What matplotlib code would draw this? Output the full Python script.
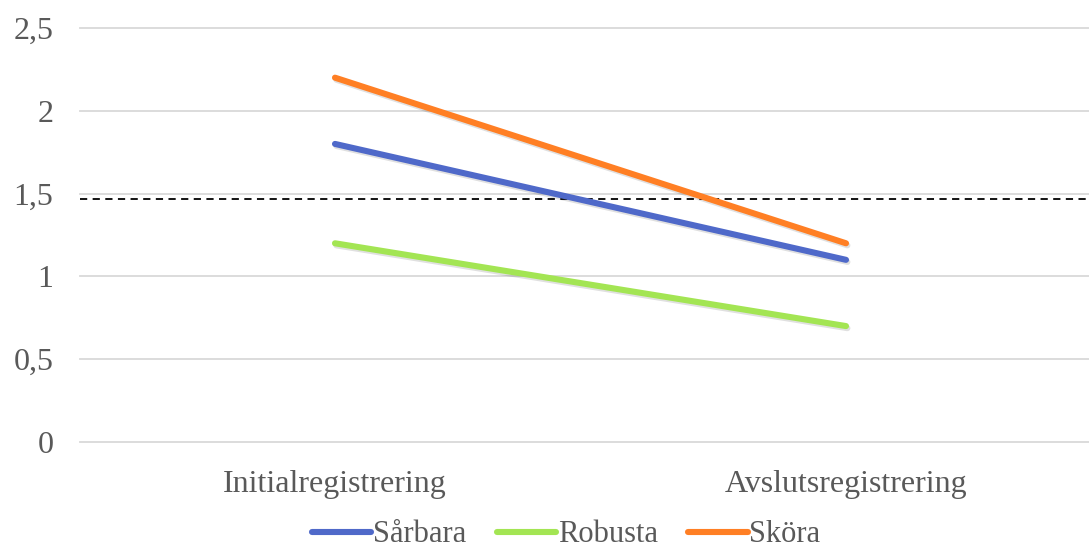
import matplotlib.pyplot as plt
import matplotlib.patheffects as pe

plt.rcParams['font.family'] = ['Liberation Serif', 'DejaVu Serif']

categories = ['Initialregistrering', 'Avslutsregistrering']
sarbara = [1.8, 1.1]
robusta = [1.2, 0.7]
skora = [2.2, 1.2]
reference_level = 1.47
yticks = [0, 0.5, 1, 1.5, 2, 2.5]
ytick_labels = ['0', '0,5', '1', '1,5', '2', '2,5']

fig = plt.figure(figsize=(10.89, 5.52), dpi=100)
ax = fig.add_axes([80 / 1089, 1 - 442 / 552, 1 - 80 / 1089, 414 / 552])

x = [0, 1]
shadow = [pe.SimpleLineShadow(offset=(1, -1.5), alpha=0.12, shadow_color='black'), pe.Normal()]
series = [('Sårbara', sarbara, '#4F69C9'),
          ('Robusta', robusta, '#A3E553'),
          ('Sköra', skora, '#FF7F24')]
for name, vals, col in series:
    ax.plot(x, vals, color=col, lw=4.4, solid_capstyle='round', label=name,
            path_effects=shadow, zorder=3)

ax.axhline(reference_level, color='black', lw=1.3, ls=(0, (4, 3)), zorder=2)

ax.set_xlim(-0.499, 1.4755)
ax.set_ylim(0, 2.5)
ax.set_yticks(yticks)
ax.set_yticklabels(ytick_labels)
ax.set_xticks(x)
ax.set_xticklabels(categories)
ax.grid(axis='y', color='#D9D9D9', lw=1.3)
for ln in ax.get_ygridlines():
    ln.set_clip_on(False)
ax.set_axisbelow(True)
for s in ax.spines.values():
    s.set_visible(False)
ax.tick_params(length=0, labelsize=23, colors='#595959')
ax.tick_params(axis='y', pad=19)
ax.tick_params(axis='x', pad=20)

leg = fig.legend(loc='center', bbox_to_anchor=(566 / 1089, 1 - 535 / 552), ncol=3,
                 frameon=False, fontsize=22, handlelength=1.95, handletextpad=0.05,
                 columnspacing=1.0, labelcolor='#595959', borderpad=0.0)
for h in leg.get_lines():
    h.set_path_effects([pe.Normal()])

fig.savefig('out.png', dpi=100)
